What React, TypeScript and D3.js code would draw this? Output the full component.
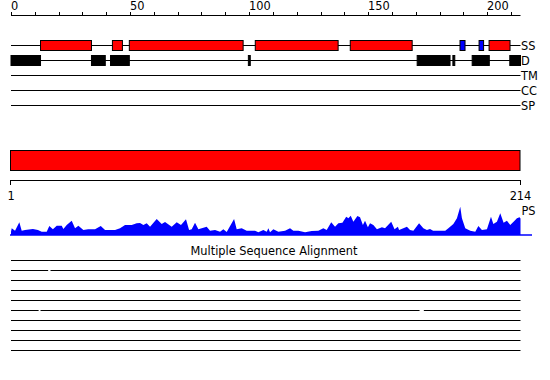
import React from "react";
import * as d3 from "d3";

const seqLength = 214;
const axisTicks = d3.range(0, 211, 10);
const axisLabels = [0, 50, 100, 150, 200];

const trackNames = ["SS", "D", "TM", "CC", "SP"];

// secondary structure: helices (red) and strands (blue), residue ranges
const helixStart = [12.4, 42.6, 49.7, 102.6, 142.5, 200.8];
const helixEnd = [33.8, 46.8, 97.5, 137.4, 168.5, 209.6];
const strandStart = [188.6, 196.6];
const strandEnd = [190.7, 198.5];

// disorder regions
const disStart = [0, 33.8, 41.8, 99.7, 170.6, 185.6, 193.7, 209.5];
const disEnd = [12.4, 39.6, 49.7, 100.5, 184.4, 186.4, 200.9, 214];

// profile score (PS)
const psPos = [0, 0.3, 1.7, 3.5, 4.5, 5.9, 9.2, 11.3, 12.9, 15, 16.1, 17.6, 19.2, 21.3, 22, 23.4, 25.5, 26.9, 28.3, 30.4, 32.4, 35.3, 37.7, 39.5, 43.7, 45.8, 47.9, 50.7, 52.8, 54.2, 55.6, 57, 58.4, 61.2, 63.3, 64.7, 67.5, 69.6, 71.4, 73.5, 74.8, 75.9, 77.3, 78.7, 80.1, 82.2, 83.6, 85.7, 87.8, 89.2, 90.6, 93.7, 94.8, 96.9, 99, 102.5, 103.9, 106, 107.4, 108.1, 108.8, 110.2, 112.3, 115.1, 117.2, 118.6, 120.7, 123.5, 126.3, 129.1, 131.2, 132.6, 134.5, 136.1, 137.5, 139.2, 140.8, 141.7, 142.7, 143.8, 145.5, 146.6, 147.8, 148.7, 149.9, 150.8, 152.2, 153.7, 155.8, 157.1, 159.7, 161.1, 162.5, 163, 164.8, 166.3, 167.6, 169, 171.4, 173.2, 174.7, 176, 177.3, 182.4, 183.7, 185.8, 187.3, 188.7, 189.4, 190.8, 192.9, 195, 196.3, 197.8, 199.9, 201.6, 202.6, 204.1, 205.5, 206.9, 208.3, 209.7, 211.5, 212.5, 213.6, 214];
const psVal = [3.3, 6.7, 4.3, 12.7, 4.3, 5, 6, 5, 3.3, 3.3, 9, 5.7, 9.3, 9.3, 6, 10, 14.3, 6.7, 9.3, 5, 5.7, 5.7, 9, 5, 5, 6.7, 10, 10, 11.7, 12, 10, 11.7, 8.3, 16, 11, 13, 8.3, 12.7, 10, 15.7, 5, 5.7, 12.3, 5.7, 6.7, 8.3, 4.3, 5, 3.3, 5.7, 3, 16, 5.7, 6.7, 4.3, 4.3, 2.7, 5, 3.3, 6.7, 2.7, 5.7, 3.3, 4.3, 6.7, 4.3, 4.3, 2.7, 4, 4.3, 6.7, 5, 12.7, 8.3, 11.7, 12.3, 18.3, 16.7, 19.3, 13.3, 19, 17.7, 10, 14.3, 7.7, 11.7, 10, 5.7, 7.7, 6.7, 13.3, 5.7, 8.3, 5, 6.7, 8.3, 5, 4.3, 11.7, 6.7, 5, 6, 4.3, 4.3, 6.7, 11, 16.7, 28.3, 16.7, 6.7, 4.3, 3.3, 9, 5, 5.7, 18.3, 11, 13.3, 21.7, 12.3, 14.3, 10, 14.3, 16.7, 17.7, 16.5];

// multiple sequence alignment rows, gaps as residue ranges
const msaRows = 10;
const msaGaps: [number, number][][] = [
  [],
  [[15.6, 16.6]],
  [],
  [],
  [],
  [[11.6, 12.4], [171.6, 173.4]],
  [],
  [],
  [],
  [],
];

const FONT = "DejaVu Sans";

export default function App() {
  const x = d3.scaleLinear().domain([0, seqLength]).range([11, 520.5]);
  const trackY = d3.scalePoint<string>().domain(trackNames).range([45, 105]);
  const yPS = d3.scaleLinear().domain([0, 30]).range([235, 205]);

  const psData = psPos.map((p, i) => [p, psVal[i]] as [number, number]);
  const area = d3
    .area<[number, number]>()
    .x((d) => x(d[0]))
    .y0(yPS(0))
    .y1((d) => yPS(d[1]));

  const msaY = (i: number) => 260 + i * 10;

  const rowSegments = (gaps: [number, number][]) => {
    const segs: [number, number][] = [];
    let s = 0;
    gaps.forEach(([a, b]) => {
      segs.push([s, a]);
      s = b;
    });
    segs.push([s, seqLength]);
    return segs;
  };

  return (
    <svg
      width={550}
      height={380}
      style={{ position: "absolute", left: 0, top: 0, background: "#fff" }}
      fontFamily={FONT}
      fontSize={11.4}
    >
      {/* top axis */}
      <line x1={x(0)} x2={x(seqLength)} y1={15.5} y2={15.5} stroke="#000" />
      {axisTicks.map((t) => (
        <line key={t} x1={Math.round(x(t)) + 0.5} x2={Math.round(x(t)) + 0.5} y1={12} y2={15} stroke="#000" />
      ))}
      {axisLabels.map((t) => (
        <text key={t} x={Math.round(x(t))} y={10}>
          {t}
        </text>
      ))}

      {/* track lines & labels */}
      {trackNames.map((n) => (
        <g key={n}>
          <line x1={x(0)} x2={x(seqLength)} y1={trackY(n)! + 0.5} y2={trackY(n)! + 0.5} stroke="#000" />
          <text x={x(seqLength) + 0.5} y={trackY(n)! + 4.5}>
            {n}
          </text>
        </g>
      ))}

      {/* helices */}
      {helixStart.map((s, i) => (
        <rect
          key={"h" + i}
          x={x(s)}
          y={40.5}
          width={x(helixEnd[i]) - x(s)}
          height={10}
          fill="#ff0000"
          stroke="#000"
        />
      ))}
      {strandStart.map((s, i) => (
        <rect
          key={"s" + i}
          x={x(s)}
          y={40.5}
          width={x(strandEnd[i]) - x(s)}
          height={10}
          fill="#0000ff"
          stroke="#000"
        />
      ))}
      {/* disorder */}
      {disStart.map((s, i) => (
        <rect
          key={"d" + i}
          x={x(s)}
          y={55.5}
          width={Math.max(x(disEnd[i]) - x(s), 1)}
          height={10}
          fill="#000"
          stroke="#000"
        />
      ))}

      {/* full-length domain bar */}
      <rect x={x(0) - 0.5} y={150.5} width={x(seqLength) - x(0)} height={20} fill="#ff0000" stroke="#000" />
      <line x1={x(0) - 0.5} x2={x(seqLength)} y1={180.5} y2={180.5} stroke="#000" />
      <line x1={x(0) - 0.5} x2={x(0) - 0.5} y1={180} y2={185} stroke="#000" />
      <line x1={x(seqLength)} x2={x(seqLength)} y1={180} y2={185} stroke="#000" />
      <text x={x(0)} y={200} textAnchor="middle">
        1
      </text>
      <text x={x(seqLength)} y={200} textAnchor="middle">
        {seqLength}
      </text>

      {/* PS profile */}
      <path d={area(psData) ?? ""} fill="#0000ff" />
      <line x1={x(0) - 1} x2={532} y1={235} y2={235} stroke="#0000ff" strokeWidth={1.5} />
      <text x={x(seqLength) + 1} y={215}>
        PS
      </text>

      {/* MSA */}
      <text x={274} y={255} textAnchor="middle">
        Multiple Sequence Alignment
      </text>
      {msaGaps.slice(0, msaRows).map((gaps, i) =>
        rowSegments(gaps).map(([a, b], j) => (
          <line key={i + "-" + j} x1={x(a)} x2={x(b)} y1={msaY(i) + 0.5} y2={msaY(i) + 0.5} stroke="#000" />
        ))
      )}
    </svg>
  );
}
